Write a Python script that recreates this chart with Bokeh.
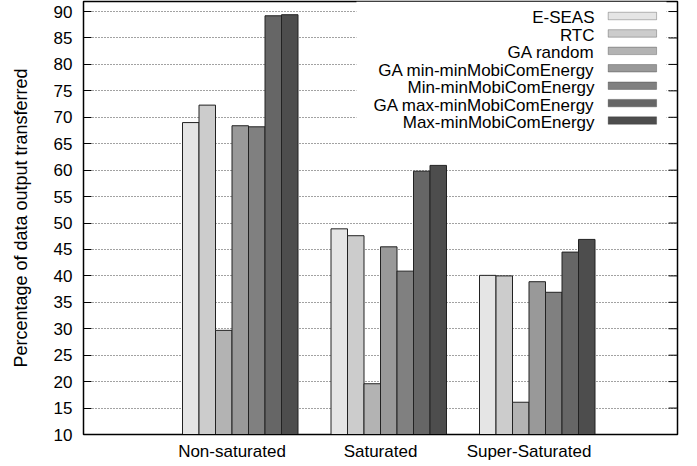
from bokeh.plotting import figure
from bokeh.models import Range1d, FixedTicker, Label, BoxAnnotation
from bokeh.embed import file_html
from bokeh.resources import INLINE

categories = ["Non-saturated", "Saturated", "Super-Saturated"]
series_names = ["E-SEAS", "RTC", "GA random", "GA min-minMobiComEnergy",
                "Min-minMobiComEnergy", "GA max-minMobiComEnergy", "Max-minMobiComEnergy"]
e_seas = [69.0, 48.9, 40.1]
rtc = [72.3, 47.6, 40.0]
ga_random = [29.7, 19.6, 16.1]
ga_minmin = [68.4, 45.5, 38.9]
minmin = [68.2, 40.9, 36.9]
ga_maxmin = [89.2, 59.8, 44.5]
maxmin = [89.4, 60.9, 46.9]
y_ticks = [10, 15, 20, 25, 30, 35, 40, 45, 50, 55, 60, 65, 70, 75, 80, 85, 90]

series_values = [e_seas, rtc, ga_random, ga_minmin, minmin, ga_maxmin, maxmin]
colors = ["#e5e5e5", "#cccccc", "#b3b3b3", "#999999", "#808080", "#666666", "#4d4d4d"]
FONT = "Liberation Sans"

p = figure(width=697, height=466, x_range=Range1d(-1, 3), y_range=Range1d(10, 91.9),
           output_backend="svg", toolbar_location=None,
           min_border_left=83, min_border_right=20, min_border_top=1, min_border_bottom=32)
p.background_fill_color = "white"
p.border_fill_color = "white"
p.outline_line_color = "black"
p.outline_line_width = 1.5
p.outline_line_alpha = 1.0

x0, x1 = p.x_range.start, p.x_range.end
y0, y1 = p.y_range.start, p.y_range.end
xspan = x1 - x0
yspan = y1 - y0

# grid + mirrored ticks on the right border
p.xgrid.grid_line_color = None
p.ygrid.ticker = FixedTicker(ticks=y_ticks)
p.ygrid.grid_line_color = "#444444"
p.ygrid.grid_line_dash = "1 2"
p.ygrid.grid_line_width = 1

n = len(series_names)
slot = 1.0 / (n + 2)
for k, (vals, col) in enumerate(zip(series_values, colors)):
    xs = [i + (k - (n - 2) / 2.0) * slot for i in range(len(categories))]
    p.vbar(x=xs, width=slot, bottom=y0, top=vals,
           fill_color=col, line_color="#222222", line_width=1)

# axes
p.xaxis.ticker = FixedTicker(ticks=list(range(len(categories))))
p.xaxis.major_label_overrides = {i: c for i, c in enumerate(categories)}
p.xaxis.major_tick_in = 0
p.xaxis.major_tick_out = 0
p.xaxis.minor_tick_line_color = None
p.xaxis.axis_line_color = "black"
p.xaxis.major_label_text_font = FONT
p.xaxis.major_label_text_font_size = "17px"
p.xaxis.major_label_text_color = "black"
p.xaxis.major_label_standoff = 7

p.yaxis.ticker = FixedTicker(ticks=y_ticks)
p.yaxis.major_tick_in = 8
p.yaxis.major_tick_out = 0
p.yaxis.minor_tick_line_color = None
p.yaxis.axis_line_color = "black"
p.yaxis.major_label_text_font = FONT
p.yaxis.major_label_text_font_size = "17px"
p.yaxis.major_label_text_color = "black"
p.yaxis.major_label_standoff = 11
p.yaxis.axis_label = "Percentage of data output transferred"
p.yaxis.axis_label_text_font = FONT
p.yaxis.axis_label_text_font_size = "18px"
p.yaxis.axis_label_text_font_style = "normal"
p.yaxis.axis_label_text_color = "black"
p.yaxis.axis_label_standoff = 20

# legend (manual: labels right-aligned, swatch on the right), white box hides grid
p.add_layout(BoxAnnotation(left=x0 + 0.4595 * xspan, right=x0 + 0.9815 * xspan,
                           bottom=y0 + 0.7020 * yspan, top=y1,
                           fill_color="white", fill_alpha=1.0, line_color=None))

tick_len = 0.015 * xspan
p.segment(x0=[x1 - tick_len] * len(y_ticks), y0=y_ticks, x1=[x1] * len(y_ticks), y1=y_ticks,
          line_color="black", line_width=1)

row_top = y0 + 0.9665 * yspan
row_step = 0.04024 * yspan
text_x = x0 + 0.8603 * xspan
sw_l = x0 + 0.8833 * xspan
sw_r = x0 + 0.9648 * xspan
sw_h = 0.0173 * yspan
text_shift = 0.0045 * yspan
for k, (name, col) in enumerate(zip(series_names, colors)):
    yc = row_top - k * row_step
    p.add_layout(Label(x=text_x, y=yc - text_shift, text=name, text_align="right",
                       text_baseline="middle", text_font=FONT,
                       text_font_size="17px", text_color="black"))
    p.add_layout(BoxAnnotation(left=sw_l, right=sw_r, bottom=yc - sw_h / 2,
                               top=yc + sw_h / 2, fill_color=col, fill_alpha=1.0,
                               line_color="#222222", line_width=1))

open("out.html", "w").write(file_html(p, INLINE))
